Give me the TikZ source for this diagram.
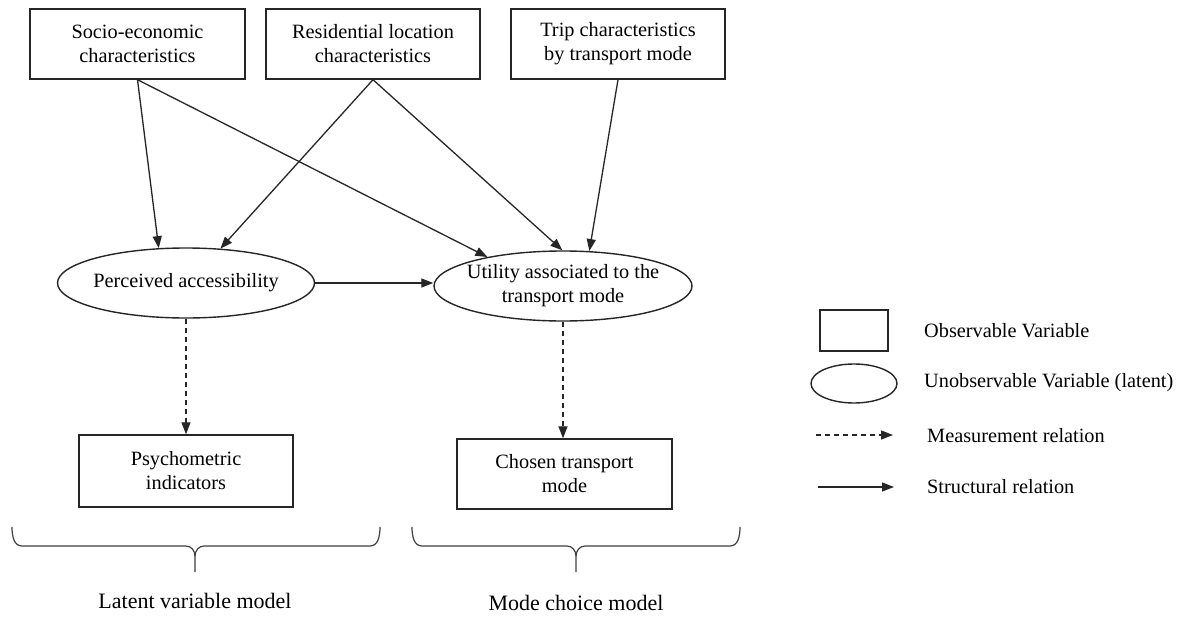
\documentclass[tikz,border=0pt]{standalone}
\usepackage{fontspec}
\setmainfont{Liberation Serif}
\usetikzlibrary{shapes.geometric,arrows.meta,calc}
\begin{document}
\begin{tikzpicture}[x=1pt,y=-1pt,
  every node/.style={font=\fontsize{20.3pt}{24pt}\selectfont, inner sep=0pt},
  obsbox/.style={draw=black!85, line width=1.4pt, rectangle, align=center},
  latentell/.style={draw=black!85, line width=1.4pt, ellipse},
  arr/.style={line width=1.3pt, draw=black!85, -{Triangle[length=12pt,width=9pt]}},
  meas/.style={arr, dash pattern=on 5pt off 4pt},
  bigbrace/.style={line width=1.2pt, draw=black!75},
  caption/.style={font=\fontsize{22pt}{26pt}\selectfont},
  legtext/.style={anchor=west}
]
\useasboundingbox (0,0) rectangle (1184,621);
\fill[white] (0,0) rectangle (1184,621);

% observable boxes
\node[obsbox, minimum width=215pt, minimum height=70pt] (b1) at (137.5,44) {Socio-economic\\characteristics};
\node[obsbox, minimum width=214pt, minimum height=70pt] (b2) at (373,44) {Residential location\\characteristics};
\node[obsbox, minimum width=214pt, minimum height=70pt] (b3) at (618,44) {Trip characteristics\\by transport mode};

% latent ellipses
\node[latentell, minimum width=257pt, minimum height=70pt] (e1) at (186,283) {};
\node (e1t) at (e1.center) {Perceived accessibility};
\node[latentell, minimum width=258pt, minimum height=70pt] (e2) at (563,286) {};
\node[align=center] (e2t) at (e2.center) {Utility associated to the\\transport mode};

% indicator boxes
\node[obsbox, minimum width=214pt, minimum height=72pt] (p) at (186,471) {Psychometric\\indicators};
\node[obsbox, minimum width=215pt, minimum height=70pt] (c) at (564.5,474) {Chosen transport\\mode};

% structural relations
\draw[arr] (b1.south) -- (e1.128);
\draw[arr] (b1.south) -- (e2.159);
\draw[arr] (b2.south) -- (e1.45);
\draw[arr] (b2.south) -- (e2.91);
\draw[arr] (b3.south) -- (e2.53);
\draw[arr] (e1.east) -- (e1.east -| e2.west);

% measurement relations
\draw[meas] (e1.south) -- (p.north);
\draw[meas] (e2.south) -- (e2.south |- c.north);

% braces
\draw[bigbrace] (12,527) to[out=-90,in=180] (22,546) -- (186,546) to[out=0,in=90] (195,556) -- (195,572);
\draw[bigbrace] (195,556) to[out=90,in=180] (204,546) -- (370,546) to[out=0,in=-90] (380,527);
\draw[bigbrace] (412,527) to[out=-90,in=180] (422,546) -- (567,546) to[out=0,in=90] (576,556) -- (576,572);
\draw[bigbrace] (576,556) to[out=90,in=180] (585,546) -- (730,546) to[out=0,in=-90] (740,527);

\node[caption] (lvm) at (195,601) {Latent variable model};
\node[caption] (mcm) at (576,603) {Mode choice model};

% legend
\node[obsbox, minimum width=68pt, minimum height=41pt] (lb) at (854,330.5) {};
\node[legtext] (lbt) at (924,331) {Observable Variable};
\node[latentell, minimum width=86pt, minimum height=39pt] (le) at (854,383.5) {};
\node[legtext] (let) at (924,383) {Unobservable Variable (latent)};
\coordinate (lm1) at (816,435);
\coordinate (lm2) at (893,435);
\draw[meas] (lm1) -- (lm2);
\node[legtext] (lmt) at (927,436) {Measurement relation};
\coordinate (ls1) at (818,487);
\coordinate (ls2) at (894,487);
\draw[arr] (ls1) -- (ls2);
\node[legtext] (lst) at (927,487) {Structural relation};
\end{tikzpicture}
\end{document}
